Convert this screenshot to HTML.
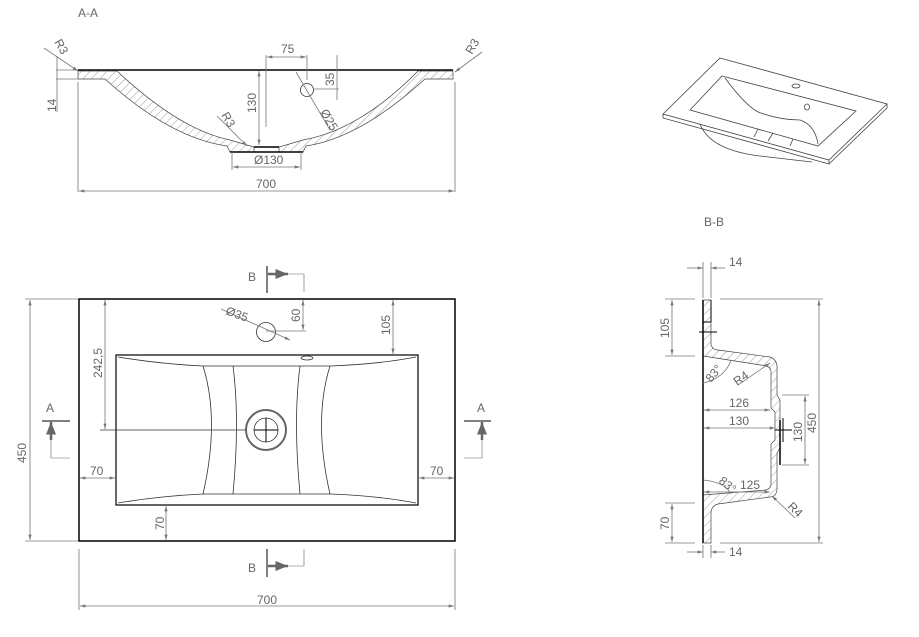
<!DOCTYPE html>
<html><head><meta charset="utf-8"><style>
html,body{margin:0;padding:0;background:#fff;width:919px;height:637px;overflow:hidden}
svg{display:block}
text{font-family:"Liberation Sans",sans-serif;fill:#666;font-size:12px}
.d{stroke:#777;stroke-width:.8;fill:none}
.k{stroke:#000;stroke-width:1.5;fill:none}
.t{stroke:#333;stroke-width:.8;fill:none}
.h{stroke:#666;stroke-width:.6;fill:none}
</style></head><body>
<svg width="919" height="637" viewBox="0 0 919 637" xmlns="http://www.w3.org/2000/svg">
<defs>
<marker id="a" viewBox="0 0 10 6" refX="10" refY="3" markerWidth="8" markerHeight="4" orient="auto-start-reverse"><path d="M0,0L10,3L0,6z" fill="#777"/></marker>
<marker id="b" viewBox="0 0 10 8" refX="10" refY="4" markerWidth="5" markerHeight="4" orient="auto"><path d="M0,0L10,4L0,8z" fill="#666"/></marker>
<pattern id="hp" width="6" height="6" patternUnits="userSpaceOnUse" patternTransform="rotate(45)"><line x1="0" y1="0" x2="0" y2="6" stroke="#777" stroke-width=".7"/></pattern>
</defs>

<!-- A-A -->
<text x="78" y="17" font-size="13">A-A</text>
<line x1="78" y1="70" x2="453" y2="70" class="k"/>
<path d="M78,71 L117,71 Q180,130 230,140 L254,147 L254,152 L230,152 L227,146 Q170,138 105,79 L78,79Z" fill="url(#hp)" stroke="#444" stroke-width=".7"/>
<path d="M453,71 L418,71 Q360,130 303,140 L279,147 L279,152 L303,152 L306,146 Q360,138 425,79 L453,79Z" fill="url(#hp)" stroke="#444" stroke-width=".7"/>
<line x1="254" y1="147" x2="279" y2="147" class="k"/>
<line x1="230" y1="152" x2="303" y2="152" class="k"/>
<circle cx="307" cy="90" r="6.5" class="t"/>
<line x1="78" y1="82" x2="78" y2="192" class="d"/><line x1="455" y1="82" x2="455" y2="192" class="d"/>
<line x1="79" y1="191" x2="454" y2="191" class="d" marker-start="url(#a)" marker-end="url(#a)"/>
<text x="256" y="188">700</text>
<line x1="232" y1="152" x2="232" y2="170" class="d"/><line x1="301" y1="152" x2="301" y2="170" class="d"/>
<line x1="233" y1="167" x2="300" y2="167" class="d" marker-start="url(#a)" marker-end="url(#a)"/>
<text x="254" y="164">Ø130</text>
<line x1="259" y1="71" x2="259" y2="145" class="d" marker-start="url(#a)" marker-end="url(#a)"/>
<text x="0" y="0" transform="translate(256,113) rotate(-90)">130</text>
<line x1="266" y1="55" x2="266" y2="127" class="d"/><line x1="307" y1="55" x2="307" y2="80" class="d"/>
<line x1="267" y1="57" x2="306" y2="57" class="d" marker-start="url(#a)" marker-end="url(#a)"/>
<text x="281" y="53">75</text>
<line x1="313" y1="89" x2="339" y2="89" class="d"/>
<line x1="337" y1="55" x2="337" y2="100" class="d"/>
<text x="0" y="0" transform="translate(334,86) rotate(-90)">35</text>
<line x1="296" y1="72" x2="330" y2="130" class="d"/>
<text x="0" y="0" transform="translate(320,112) rotate(60)">Ø25</text>
<line x1="217" y1="116" x2="247" y2="146" class="d" marker-end="url(#a)"/>
<text x="0" y="0" transform="translate(221,115) rotate(60)">R3</text>
<line x1="44" y1="48" x2="78" y2="71" class="d" marker-end="url(#a)"/>
<text x="0" y="0" transform="translate(54,42) rotate(60)">R3</text>
<line x1="482" y1="52" x2="455" y2="72" class="d" marker-end="url(#a)"/>
<text x="0" y="0" transform="translate(472,55) rotate(-60)">R3</text>
<line x1="56" y1="70" x2="78" y2="70" class="d"/><line x1="56" y1="79" x2="78" y2="79" class="d"/>
<line x1="57" y1="56" x2="57" y2="112" class="d"/>
<text x="0" y="0" transform="translate(56,112) rotate(-90)">14</text>

<!-- 3D view -->
<g stroke="#444" stroke-width=".8" fill="none">
<path d="M720,58 L887,104 L829,160 L663,114Z"/>
<path d="M663,114 L663,118 L829,164 L829,160 M829,164 L887,108 L887,104"/>
<path d="M722,76 L856,111 L818,146 L690,110Z"/>
<path d="M725,78 Q745,105 758,112 Q780,120 800,120 Q815,125 818,144"/>
<path d="M758,129 L754,137 M773,133 L768,141 M793,139 L790,146"/>
<path d="M700,124 Q710,150 760,156 L812,162"/>
<ellipse cx="796" cy="86" rx="4" ry="2"/><ellipse cx="807" cy="107" rx="2.5" ry="3"/>
</g>

<!-- Plan -->
<rect x="79" y="299" width="376" height="242" fill="none" stroke="#000" stroke-width="1.5"/>
<rect x="116" y="355" width="302" height="150" fill="none" stroke="#000" stroke-width="1.2"/>
<path d="M118,357 Q160,364 203,366 L331,366 Q380,364 416,357" class="t"/>
<path d="M118,503 Q160,496 203,494 L331,494 Q380,496 416,503" class="t"/>
<path d="M203,366 Q220,420 203,494 M233,366 Q240,420 233,494 M300,366 Q293,420 300,494 M330,366 Q313,420 330,494" class="t"/>
<circle cx="266" cy="430" r="20" fill="none" stroke="#666" stroke-width="2"/>
<circle cx="266" cy="430" r="12" class="t"/>
<line x1="254" y1="430" x2="278" y2="430" stroke="#000"/><line x1="266" y1="418" x2="266" y2="442" stroke="#000"/>
<circle cx="266" cy="332" r="9.5" class="t"/>
<ellipse cx="307" cy="358" rx="6" ry="2" class="t"/>
<line x1="100" y1="430" x2="246" y2="430" class="t"/>
<line x1="105" y1="300" x2="105" y2="429" class="d" marker-start="url(#a)" marker-end="url(#a)"/>
<text x="0" y="0" transform="translate(102,378) rotate(-90)">242,5</text>
<line x1="266" y1="331" x2="306" y2="331" class="d"/>
<line x1="303" y1="300" x2="303" y2="330" class="d" marker-start="url(#a)" marker-end="url(#a)"/>
<text x="0" y="0" transform="translate(300,322) rotate(-90)">60</text>
<line x1="221" y1="309" x2="290" y2="340" class="d" marker-end="url(#a)"/>
<text x="0" y="0" transform="translate(225,314) rotate(20)">Ø35</text>
<line x1="393" y1="300" x2="393" y2="354" class="d" marker-start="url(#a)" marker-end="url(#a)"/>
<text x="0" y="0" transform="translate(390,335) rotate(-90)">105</text>
<line x1="80" y1="478" x2="115" y2="478" class="d" marker-start="url(#a)" marker-end="url(#a)"/>
<text x="90" y="475">70</text>
<line x1="419" y1="478" x2="454" y2="478" class="d" marker-start="url(#a)" marker-end="url(#a)"/>
<text x="430" y="475">70</text>
<line x1="166" y1="506" x2="166" y2="540" class="d" marker-start="url(#a)" marker-end="url(#a)"/>
<text x="0" y="0" transform="translate(164,530) rotate(-90)">70</text>
<line x1="25" y1="299" x2="78" y2="299" class="d"/><line x1="25" y1="541" x2="78" y2="541" class="d"/>
<line x1="30" y1="300" x2="30" y2="540" class="d" marker-start="url(#a)" marker-end="url(#a)"/>
<text x="0" y="0" transform="translate(26,463) rotate(-90)">450</text>
<line x1="79" y1="549" x2="79" y2="610" class="d"/><line x1="455" y1="549" x2="455" y2="610" class="d"/>
<line x1="80" y1="606" x2="454" y2="606" class="d" marker-start="url(#a)" marker-end="url(#a)"/>
<text x="257" y="604">700</text>
<!-- section marks -->
<g>
<text x="248" y="281" font-size="13">B</text>
<line x1="267" y1="266" x2="267" y2="293" stroke="#555" stroke-width="1.5"/>
<line x1="268" y1="274" x2="288" y2="274" stroke="#666" stroke-width="2.5" marker-end="url(#b)"/>
<path d="M288,274 L304,274 L304,292" class="h"/>
<text x="248" y="572" font-size="13">B</text>
<line x1="267" y1="549" x2="267" y2="577" stroke="#555" stroke-width="1.5"/>
<line x1="268" y1="566" x2="288" y2="566" stroke="#666" stroke-width="2.5" marker-end="url(#b)"/>
<path d="M288,566 L304,566 L304,549" class="h"/>
<text x="46" y="412" font-size="13">A</text>
<line x1="42" y1="421" x2="70" y2="421" stroke="#555" stroke-width="1.5"/>
<line x1="51" y1="440" x2="51" y2="422" stroke="#666" stroke-width="2.5" marker-end="url(#b)"/>
<path d="M51,440 L51,458 L70,458" class="h"/>
<text x="477" y="412" font-size="13">A</text>
<line x1="464" y1="421" x2="491" y2="421" stroke="#555" stroke-width="1.5"/>
<line x1="482" y1="440" x2="482" y2="422" stroke="#666" stroke-width="2.5" marker-end="url(#b)"/>
<path d="M482,440 L482,458 L464,458" class="h"/>
</g>

<!-- B-B -->
<text x="704" y="226" font-size="13">B-B</text>
<path d="M703,300 L711,300 L711,345 Q713,350 718,350 L770,357 Q778,360 777,370 L777,395 L780,400 L780,448 L777,453 L777,490 Q776,497 770,497 L718,504 Q711,506 711,513 L711,543 L703,543 Z" fill="url(#hp)" stroke="#444" stroke-width=".7"/>
<path d="M703,356 L767,366 Q771,368 771,372 L771,408 L775,412 L775,440 L771,444 L771,485 Q770,489 766,490 L703,495Z" fill="#fff" stroke="#444" stroke-width=".7"/>
<line x1="703" y1="300" x2="703" y2="543" stroke="#000" stroke-width="1.5"/>
<line x1="711" y1="300" x2="711" y2="322" stroke="#000"/>
<line x1="703" y1="322" x2="711" y2="322" stroke="#000"/>
<line x1="699" y1="332" x2="717" y2="332" stroke="#000"/>
<line x1="780" y1="420" x2="780" y2="465" stroke="#000" stroke-width="1.5"/>
<line x1="775" y1="430" x2="792" y2="430" stroke="#000"/><line x1="783" y1="418" x2="783" y2="442" stroke="#000"/>
<line x1="687" y1="268" x2="703" y2="268" class="d" marker-end="url(#a)"/>
<line x1="711" y1="268" x2="725" y2="268" class="d" marker-start="url(#a)"/>
<line x1="703" y1="262" x2="703" y2="298" class="d"/><line x1="711" y1="262" x2="711" y2="298" class="d"/>
<text x="729" y="266">14</text>
<line x1="687" y1="552" x2="703" y2="552" class="d" marker-end="url(#a)"/>
<line x1="711" y1="552" x2="725" y2="552" class="d" marker-start="url(#a)"/>
<line x1="703" y1="545" x2="703" y2="558" class="d"/><line x1="711" y1="545" x2="711" y2="558" class="d"/>
<text x="729" y="556">14</text>
<line x1="665" y1="299" x2="695" y2="299" class="d"/><line x1="665" y1="356" x2="695" y2="356" class="d"/>
<line x1="672" y1="300" x2="672" y2="355" class="d" marker-start="url(#a)" marker-end="url(#a)"/>
<text x="0" y="0" transform="translate(669,338) rotate(-90)">105</text>
<line x1="665" y1="503" x2="695" y2="503" class="d"/><line x1="665" y1="543" x2="695" y2="543" class="d"/>
<line x1="672" y1="504" x2="672" y2="542" class="d" marker-start="url(#a)" marker-end="url(#a)"/>
<text x="0" y="0" transform="translate(669,530) rotate(-90)">70</text>
<line x1="720" y1="299" x2="823" y2="299" class="d"/><line x1="720" y1="543" x2="823" y2="543" class="d"/>
<line x1="819" y1="300" x2="819" y2="542" class="d" marker-start="url(#a)" marker-end="url(#a)"/>
<text x="0" y="0" transform="translate(816,433) rotate(-90)">450</text>
<line x1="782" y1="395" x2="809" y2="395" class="d"/><line x1="782" y1="465" x2="809" y2="465" class="d"/>
<line x1="805" y1="396" x2="805" y2="464" class="d" marker-start="url(#a)" marker-end="url(#a)"/>
<text x="0" y="0" transform="translate(802,442) rotate(-90)">130</text>
<line x1="704" y1="410" x2="770" y2="410" class="d" marker-start="url(#a)" marker-end="url(#a)"/>
<text x="729" y="407">126</text>
<line x1="704" y1="428" x2="775" y2="428" class="d" marker-start="url(#a)" marker-end="url(#a)"/>
<text x="729" y="425">130</text>
<line x1="704" y1="492" x2="770" y2="492" class="d" marker-start="url(#a)" marker-end="url(#a)"/>
<text x="740" y="489">125</text>
<path d="M703,383 Q725,378 731,360" class="d"/>
<text x="0" y="0" transform="translate(711,383) rotate(-50)">83°</text>
<path d="M703,480 Q725,482 731,494" class="d"/>
<text x="0" y="0" transform="translate(718,482) rotate(40)">83°</text>
<line x1="738" y1="385" x2="770" y2="363" class="d" marker-end="url(#a)"/>
<text x="0" y="0" transform="translate(737,386) rotate(-35)">R4</text>
<line x1="795" y1="518" x2="772" y2="496" class="d" marker-end="url(#a)"/>
<text x="0" y="0" transform="translate(787,507) rotate(45)">R4</text>
</svg>
</body></html>
